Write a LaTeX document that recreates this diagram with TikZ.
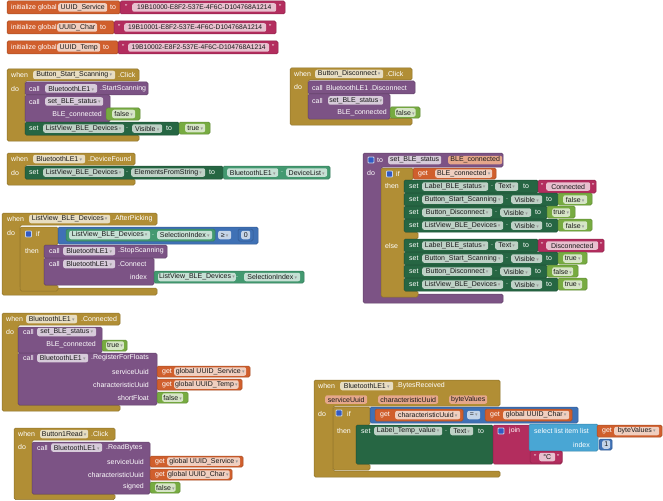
\documentclass[tikz,border=0pt]{standalone}
\usepackage{fontspec}
\setmainfont{Liberation Sans}
\newfontfamily\symfont{DejaVu Sans}
\usepackage{tikz}
\definecolor{cEvent}{RGB}{177,142,53}
\definecolor{cProc}{RGB}{124,83,133}
\definecolor{cSet}{RGB}{38,102,67}
\definecolor{cGet}{RGB}{67,153,112}
\definecolor{cLogic}{RGB}{119,171,65}
\definecolor{cText}{RGB}{179,45,94}
\definecolor{cVar}{RGB}{208,95,45}
\definecolor{cMath}{RGB}{63,113,181}
\definecolor{cList}{RGB}{73,166,212}
\tikzset{
	blkbase/.style={line width=0.5pt, rounded corners=1.5pt},
	evt/.style    ={blkbase, fill=cEvent, draw=cEvent!80!black},
	proc/.style   ={blkbase, fill=cProc, draw=cProc!80!black},
	setb/.style   ={blkbase, fill=cSet, draw=cSet!80!black},
	getb/.style   ={blkbase, fill=cGet, draw=cGet!80!black},
	logic/.style  ={blkbase, fill=cLogic, draw=cLogic!80!black},
	txtb/.style   ={blkbase, fill=cText, draw=cText!80!black},
	varb/.style   ={blkbase, fill=cVar, draw=cVar!80!black},
	mathb/.style  ={blkbase, fill=cMath, draw=cMath!80!black},
	listb/.style  ={blkbase, fill=cList, draw=cList!80!black},
	lbl/.style    ={anchor=west, text=white, inner sep=0pt},
	lblr/.style   ={anchor=east, text=white, inner sep=0pt},
	fld/.style    ={anchor=west, fill=white, fill opacity=.7, text opacity=1, text=black!90, rounded corners=2pt, inner xsep=1pt, inner ysep=0pt, minimum height=8.5pt},
	parfld/.style ={anchor=west, fill=cVar!55!white, text=black!90, rounded corners=2pt, inner xsep=1pt, inner ysep=0pt, minimum height=8.5pt},
	gear/.style   ={fill=cMath!80!blue, draw=white!70!cMath, line width=.9pt, rounded corners=.8pt, minimum size=6pt, inner sep=0pt},
	uuid/.style   ={font=\fontsize{6.7}{8}\selectfont},
}
\newcommand\ddarr{\hspace{1.2pt}{\symfont\fontsize{5}{5}\selectfont\textcolor{black!40}{▾}}}
\newcommand\blab[4]{\node[lbl] (#1) at (#2,#3) {#4};}
\newcommand\blabr[4]{\node[lblr] (#1) at (#2,#3) {#4};}
\newcommand\bfdd[5]{\node[fld, minimum width={((#3)-(#2))*1pt}] (#1) at (#2,#4) {#5\ddarr};}
\newcommand\bfld[5]{\node[fld, minimum width={((#3)-(#2))*1pt}] (#1) at (#2,#4) {#5};}
\newcommand\bpar[5]{\node[parfld, minimum width={((#3)-(#2))*1pt}] (#1) at (#2,#4) {#5};}
\newcommand\cblk[9]{\draw[#1] (#2,#3) -- (#4,#3) -- (#4,#5) -- (#6,#5) -- (#6,#7) -- (#8,#7) -- (#8,#9) -- (#2,#9) -- cycle;}
% one "set X.Visible to bool" row of the procedure
\newcommand\visrow[6]{%
	\draw[setb] (404,#2) rectangle ({558-#4},{#2+13});
	\blab{#1a}{409}{#2+6.5}{set} \bfdd{#1b}{422}{503-#4}{#2+6.5}{#3} \blab{#1c}{506-#4}{#2+6.5}{.}
	\bfdd{#1d}{511-#4}{542-#4}{#2+6.5}{Visible} \blab{#1e}{546-#4}{#2+6.5}{to}
	\draw[logic] ({558-#4},#2) rectangle (#6,{#2+12});
	\bfdd{#1f}{563-#4}{#6-5}{#2+6.5}{#5}}

\begin{document}
\begin{tikzpicture}[x=1pt, y=-1pt, font=\fontsize{7}{8}\selectfont]
\useasboundingbox (0,0) rectangle (663,500);
% globals
\draw[varb] (7,1) rectangle (120,14); \draw[txtb] (120,1) rectangle (285,14);
\blab{v1}{11}{7.5}{initialize global} \bfld{v2}{58}{107}{7.5}{UUID\_Service} \blab{v3}{110}{7.5}{to}
\blab{v4}{125}{7}{"} \node[fld, uuid, minimum width=144pt] (v5) at (132,7.5) {19B10000-E8F2-537E-4F6C-D104768A1214}; \blab{v6}{279}{7}{"}
\draw[varb] (7,21) rectangle (114,34); \draw[txtb] (114,21) rectangle (276,34);
\blab{v7}{11}{27.5}{initialize global} \bfld{v8}{57}{97}{27.5}{UUID\_Char} \blab{v9}{100}{27.5}{to}
\blab{v10}{118}{27}{"} \node[fld, uuid, minimum width=142pt] (v11) at (124,27.5) {19B10001-E8F2-537E-4F6C-D104768A1214}; \blab{v12}{269}{27}{"}
\draw[varb] (7,41) rectangle (118,54); \draw[txtb] (118,41) rectangle (278,54);
\blab{v13}{11}{47.5}{initialize global} \bfld{v14}{57}{100}{47.5}{UUID\_Temp} \blab{v15}{103}{47.5}{to}
\blab{v16}{122}{47}{"} \node[fld, uuid, minimum width=141pt] (v17) at (128,47.5) {19B10002-E8F2-537E-4F6C-D104768A1214}; \blab{v18}{272}{47}{"}

% when Button_Start_Scanning.Click
\cblk{evt}{7}{69}{139}{81}{25}{135}{139}{141}
\blab{a1}{11}{75}{when} \bfdd{a2}{33}{115}{75}{Button\_Start\_Scanning} \blab{a3}{118}{75}{.Click}
\blab{a4}{11}{88.5}{do}
\draw[proc] (25,82) rectangle (148,95);
\blab{a5}{29}{88.5}{call} \bfdd{a6}{45}{97}{88.5}{BluetoothLE1} \blab{a7}{100}{88.5}{.StartScanning}
\draw[proc] (25,95) rectangle (110,122);
\blab{a8}{29}{101.5}{call} \bfdd{a9}{45}{103}{101.5}{set\_BLE\_status}
\blabr{a10}{102}{114.5}{BLE\_connected}
\draw[logic] (106,108) rectangle (140,120); \bfdd{a11}{112}{135}{114}{false}
\draw[setb] (25,122) rectangle (179,135);
\blab{a12}{29}{128.5}{set} \bfdd{a13}{43}{124}{128.5}{ListView\_BLE\_Devices} \blab{a14}{126}{128.5}{.}
\bfdd{a15}{132}{162}{128.5}{Visible} \blab{a16}{166}{128.5}{to}
\draw[logic] (179,122) rectangle (210,134); \bfdd{a17}{185}{205}{128}{true}

% when Button_Disconnect.Click
\cblk{evt}{290}{68}{412}{80}{308}{118}{412}{125}
\blab{b1}{294}{74}{when} \bfdd{b2}{315}{383}{74}{Button\_Disconnect} \blab{b3}{386}{74}{.Click}
\blab{b4}{294}{87}{do}
\draw[proc] (308,81) rectangle (415,94);
\blab{b5}{312}{87.5}{call} \blab{b6}{326}{87.5}{BluetoothLE1 .Disconnect}
\draw[proc] (308,94) rectangle (390,119);
\blab{b7}{312}{100.5}{call} \bfdd{b8}{328}{383}{100.5}{set\_BLE\_status}
\blabr{b9}{387}{112.5}{BLE\_connected}
\draw[logic] (390,107) rectangle (420,118); \bfdd{b10}{395}{415}{112.5}{false}

% when BluetoothLE1.DeviceFound
\cblk{evt}{7}{153}{135}{165}{25}{179}{135}{185}
\blab{c1}{11}{159}{when} \bfdd{c2}{33}{85}{159}{BluetoothLE1} \blab{c3}{88}{159}{.DeviceFound}
\blab{c4}{11}{172.5}{do}
\draw[setb] (25,166) rectangle (223,179);
\blab{c5}{29}{172.5}{set} \bfdd{c6}{43}{124}{172.5}{ListView\_BLE\_Devices} \blab{c7}{126}{172.5}{.}
\bfdd{c8}{131}{205}{172.5}{ElementsFromString} \blab{c9}{209}{172.5}{to}
\draw[getb] (223,166) rectangle (330,179);
\bfdd{c10}{227}{278}{172.5}{BluetoothLE1} \blab{c11}{281}{172.5}{.} \bfdd{c12}{286}{327}{172.5}{DeviceList}

% when ListView_BLE_Devices.AfterPicking
\cblk{evt}{2}{213}{157}{225}{20}{288}{157}{295}
\blab{d1}{7}{219}{when} \bfdd{d2}{29}{110}{219}{ListView\_BLE\_Devices} \blab{d3}{113}{219}{.AfterPicking}
\blab{d4}{7}{233}{do}
\cblk{evt}{20}{227}{58}{245}{44}{285}{58}{291}
\node[gear] (d5) at (28.5,234) {}; \blab{d6}{36}{234}{if} \blab{d7}{25}{251}{then}
\draw[mathb] (58,227) rectangle (258,244);
\draw[getb] (66,229) rectangle (215,241);
\bfdd{d8}{69}{150}{235}{ListView\_BLE\_Devices} \blab{d9}{152}{235}{.} \bfdd{d10}{157}{212}{235}{SelectionIndex}
\bfdd{d11}{218}{231}{235}{≥}
\draw[mathb] (238,229) rectangle (253,241); \bfld{d12}{241}{250}{235}{0}
\draw[proc] (44,245) rectangle (167,258);
\blab{d13}{49}{251}{call} \bfdd{d14}{63}{115}{251}{BluetoothLE1} \blab{d15}{118}{251}{.StopScanning}
\draw[proc] (44,258) rectangle (154,285);
\blab{d16}{49}{264}{call} \bfdd{d17}{63}{115}{264}{BluetoothLE1} \blab{d18}{118}{264}{.Connect}
\blabr{d19}{147}{277}{index}
\draw[getb] (154,271) rectangle (304,283);
\bfdd{d20}{158}{232}{277}{ListView\_BLE\_Devices} \blab{d21}{236}{277}{.} \bfdd{d22}{244}{300}{277}{SelectionIndex}

% to set_BLE_status BLE_connected
\cblk{proc}{363}{153}{503}{167}{381}{294}{503}{303}
\node[gear] (e1) at (371,160) {}; \blab{e2}{377}{160}{to} \bfld{e3}{388}{441}{160}{set\_BLE\_status} \bpar{e4}{448}{502}{160}{BLE\_connected}
\blab{e5}{367}{173}{do}
\draw[evt] (381,168) -- (413,168) -- (413,180) -- (404,180) -- (404,232) -- (418,232) -- (418,239) -- (404,239) -- (404,291) -- (418,291) -- (418,297) -- (381,297) -- cycle;
\node[gear] (e6) at (389.5,174) {}; \blab{e7}{396}{174}{if}
\draw[varb] (413,168) rectangle (496,179);
\blab{e8}{418}{173.5}{get} \bfdd{e9}{435}{492}{173.5}{BLE\_connected}
\blab{e10}{385}{186}{then} \blab{e11}{385}{245.5}{else}
\draw[setb] (404,180) rectangle (538,193);
\blab{r1a}{409}{186.5}{set} \bfdd{r1b}{422}{488}{186.5}{Label\_BLE\_status} \blab{r1c}{491}{186.5}{.} \bfdd{r1d}{495}{518}{186.5}{Text} \blab{r1e}{523}{186.5}{to}
\draw[txtb] (538,180) rectangle (596,193);
\blab{r1f}{541}{186}{"} \bfld{r1g}{546}{590}{186.5}{Connected} \blab{r1h}{592}{186}{"}
\visrow{r2}{193}{Button\_Start\_Scanning}{0}{false}{592}
\visrow{r3}{206}{Button\_Disconnect}{11}{true}{575}
\visrow{r4}{219}{ListView\_BLE\_Devices}{0}{false}{592}
\draw[setb] (404,239) rectangle (538,252);
\blab{r5a}{409}{245.5}{set} \bfdd{r5b}{422}{488}{245.5}{Label\_BLE\_status} \blab{r5c}{491}{245.5}{.} \bfdd{r5d}{495}{518}{245.5}{Text} \blab{r5e}{523}{245.5}{to}
\draw[txtb] (538,239) rectangle (604,252);
\blab{r5f}{541}{245}{"} \bfld{r5g}{546}{598}{245.5}{Disconnected} \blab{r5h}{600}{245}{"}
\visrow{r6}{252}{Button\_Start\_Scanning}{0}{true}{587}
\visrow{r7}{265}{Button\_Disconnect}{11}{false}{578}
\visrow{r8}{278}{ListView\_BLE\_Devices}{0}{true}{587}

% when BluetoothLE1.Connected
\cblk{evt}{2}{313}{120}{325}{18}{405}{120}{411}
\blab{f1}{6}{319}{when} \bfdd{f2}{26}{77}{319}{BluetoothLE1} \blab{f3}{81}{319}{.Connected}
\blab{f4}{6}{332}{do}
\draw[proc] (18,327) rectangle (102,353);
\blab{f5}{23}{332}{call} \bfdd{f6}{37}{96}{332}{set\_BLE\_status}
\blabr{f7}{96}{345}{BLE\_connected}
\draw[logic] (102,340) rectangle (127,351); \bfdd{f8}{106}{123}{345.5}{true}
\draw[proc] (18,353) rectangle (157,405);
\blab{f9}{23}{358}{call} \bfdd{f10}{37}{88}{358}{BluetoothLE1} \blab{f11}{91}{358}{.RegisterForFloats}
\blabr{f12}{149}{371.5}{serviceUuid} \blabr{f13}{149}{385}{characteristicUuid} \blabr{f14}{149}{398}{shortFloat}
\draw[varb] (157,366) rectangle (250,377); \blab{f15}{162}{371.5}{get} \bfdd{f16}{174}{246}{371.5}{global UUID\_Service}
\draw[varb] (157,379) rectangle (242,390); \blab{f17}{162}{384.5}{get} \bfdd{f18}{174}{238}{384.5}{global UUID\_Temp}
\draw[logic] (157,392) rectangle (188,403); \bfdd{f19}{162}{183}{397.5}{false}

% when BluetoothLE1.BytesReceived
\cblk{evt}{314}{380}{500}{406}{333}{471}{500}{477}
\blab{g1}{318}{386}{when} \bfdd{g2}{340}{393}{386}{BluetoothLE1} \blab{g3}{396}{386}{.BytesReceived}
\bpar{g4}{325}{367}{399.5}{serviceUuid} \bpar{g5}{378}{438}{399.5}{characteristicUuid} \bpar{g6}{449}{487}{399.5}{byteValues}
\blab{g7}{318}{414}{do}
\cblk{evt}{333}{407}{370}{425}{356}{464}{370}{470}
\node[gear] (g8) at (339,413) {}; \blab{g9}{347}{413.5}{if} \blab{g10}{337}{431}{then}
\draw[mathb] (370,407) rectangle (578,423);
\draw[varb] (375,409) rectangle (463,421); \blab{g11}{380}{415}{get} \bfdd{g12}{395}{460}{415}{characteristicUuid}
\bfdd{g13}{467}{480}{415}{=}
\draw[varb] (485,409) rectangle (572,421); \blab{g14}{490}{415}{get} \bfdd{g15}{503}{569}{415}{global UUID\_Char}
\draw[setb] (356,425) rectangle (493,464);
\blab{g16}{361}{431}{set} \bfdd{g17}{374}{442}{431}{Label\_Temp\_value} \blab{g18}{445}{431}{.} \bfdd{g19}{450}{473}{431}{Text} \blab{g20}{478}{431}{to}
\draw[txtb] (493,425) rectangle (562,464);
\node[gear] (g21) at (501,431) {}; \blab{g22}{509}{431}{join}
\draw[listb] (529,424) rectangle (598,451);
\blab{g23}{534}{431}{select list item} \blab{g24}{580}{431}{list} \blabr{g25}{590}{444.5}{index}
\draw[varb] (597,425) rectangle (662,437); \blab{g26}{602}{431}{get} \bfdd{g27}{614}{659}{431}{byteValues}
\draw[mathb] (599,439) rectangle (612,450); \bfld{g28}{602}{610}{444.5}{1}
\draw[txtb] (530,451) rectangle (562,463); \blab{g29}{534}{457}{"} \bfld{g30}{539}{555}{457}{°C} \blab{g31}{557}{457}{"}

% when Button1Read.Click
\cblk{evt}{14}{428}{115}{440}{32}{494}{115}{499.5}
\blab{h1}{18}{434}{when} \bfdd{h2}{40}{88}{434}{Button1Read} \blab{h3}{91}{434}{.Click}
\blab{h4}{18}{447}{do}
\draw[proc] (32,442) rectangle (150,494);
\blab{h5}{37}{447.5}{call} \bfdd{h6}{51}{102}{447.5}{BluetoothLE1} \blab{h7}{106}{447.5}{.ReadBytes}
\blabr{h8}{144}{461.5}{serviceUuid} \blabr{h9}{144}{474.5}{characteristicUuid} \blabr{h10}{144}{487}{signed}
\draw[varb] (150,456) rectangle (243,467); \blab{h11}{155}{461.5}{get} \bfdd{h12}{167}{240}{461.5}{global UUID\_Service}
\draw[varb] (150,469) rectangle (232,480); \blab{h13}{155}{474.5}{get} \bfdd{h14}{167}{228}{474.5}{global UUID\_Char}
\draw[logic] (150,482) rectangle (180,493); \bfdd{h15}{155}{175}{487.5}{false}
\end{tikzpicture}
\end{document}
